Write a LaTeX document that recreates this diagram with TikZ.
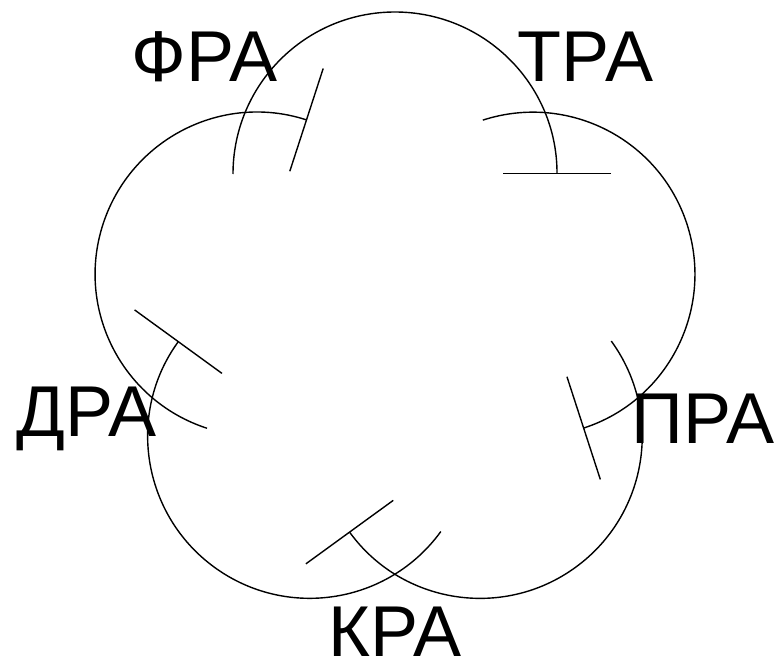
\documentclass[tikz,border=0pt]{standalone}
\usepackage{fontspec}
\setmainfont{Liberation Sans}
\usetikzlibrary{arrows.meta,calc}
\begin{document}
\begin{tikzpicture}[x=1pt,y=1pt,
  inhib/.style={line width=1.4pt,-{Bar[width=108pt,line width=1.4pt]}},
  lbl/.style={font=\fontsize{72}{72}\selectfont,inner sep=0pt}]
\useasboundingbox (0,0) rectangle (782,-672);
\coordinate (O) at (395,-319);
\foreach \t/\n in {90/a,18/b,-54/c,-126/d,162/e}{
  \coordinate (c\n) at ($(O)+(\t:145)$);
  \draw[inhib] (c\n) ++(\t+90:162) arc[start angle=\t+90,end angle=\t-90,radius=162];
}
\node[lbl] (fra) at ($(O)+(126:324)$) {ФРА};
\node[lbl] (tra) at ($(O)+(54:324)$) {ТРА};
\node[lbl] (pra) at ($(O)+(-18:324)$) {ПРА};
\node[lbl] (kra) at ($(O)+(-90:313)$) {КРА};
\node[lbl] (dra) at ($(O)+(198:324)$) {ДРА};
\end{tikzpicture}
\end{document}
